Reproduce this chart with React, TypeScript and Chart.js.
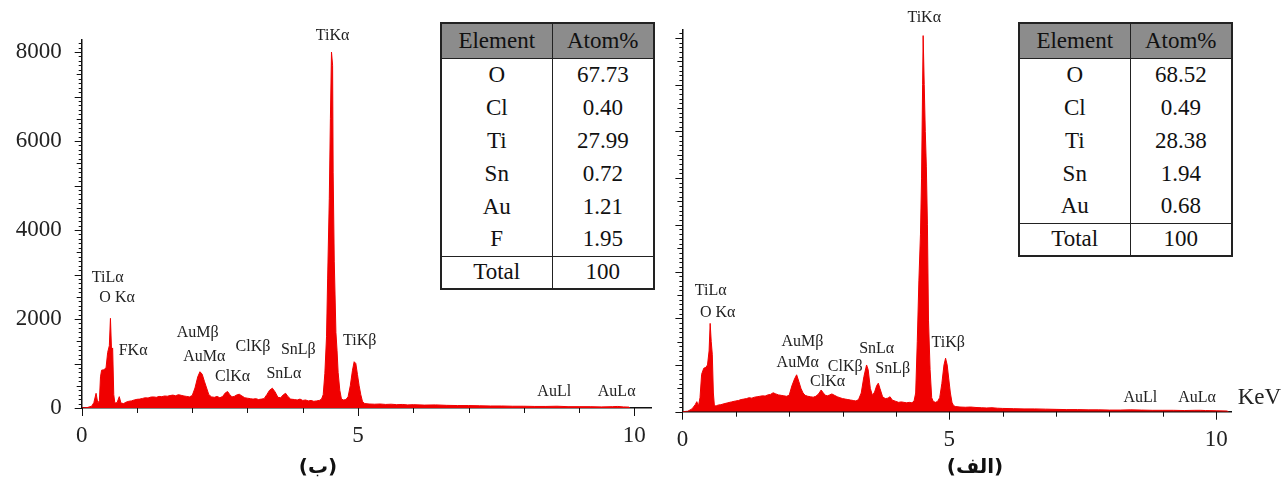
import React, { useEffect, useRef } from 'react';
import { Chart, registerables } from 'chart.js';

Chart.register(...registerables);

Chart.defaults.font.family = '"Liberation Serif", "Times New Roman", serif';
Chart.defaults.color = '#222';

// spectrum (ب) - left panel
const energyB = [
  0.00, 0.10, 0.18, 0.22, 0.26, 0.29, 0.32, 0.34, 0.36, 0.40, 0.44, 0.47, 0.50, 0.52, 0.54, 0.56, 0.58, 0.60,
  0.64, 0.68, 0.71, 0.76, 0.80, 0.85, 0.90, 0.95, 1.00, 1.05, 1.10, 1.15, 1.20, 1.25, 1.30, 1.35, 1.40, 1.45,
  1.50, 1.55, 1.60, 1.65, 1.70, 1.75, 1.80, 1.85, 1.90, 1.95, 2.00, 2.05, 2.10, 2.14, 2.18, 2.22, 2.26, 2.30,
  2.35, 2.40, 2.45, 2.50, 2.55, 2.60, 2.64, 2.68, 2.72, 2.76, 2.80, 2.85, 2.90, 2.95, 3.00, 3.05, 3.10, 3.15,
  3.20, 3.25, 3.30, 3.35, 3.40, 3.45, 3.50, 3.55, 3.60, 3.65, 3.69, 3.73, 3.78, 3.85, 3.90, 3.95, 4.00, 4.05,
  4.10, 4.15, 4.20, 4.25, 4.30, 4.34, 4.37, 4.40, 4.43, 4.45, 4.48, 4.50, 4.52, 4.54, 4.55, 4.57, 4.60, 4.62,
  4.64, 4.67, 4.70, 4.74, 4.78, 4.82, 4.86, 4.90, 4.93, 4.96, 4.99, 5.02, 5.05, 5.08, 5.12, 5.20, 5.30, 5.40,
  5.50, 5.60, 5.70, 5.80, 5.90, 6.00, 6.20, 6.40, 6.60, 6.80, 7.00, 7.20, 7.40, 7.60, 7.80, 8.00, 8.20, 8.40,
  8.60, 8.80, 9.00, 9.20, 9.40, 9.60, 9.70, 9.80, 9.90, 9.92,
];
const countsB = [
  0, 10, 40, 120, 330, 120, 160, 700, 850, 860, 900, 1250, 1400, 2015, 1300, 1350, 300, 110,
  120, 255, 110, 100, 130, 150, 160, 180, 195, 200, 215, 230, 225, 245, 250, 240, 260, 255,
  270, 265, 280, 290, 275, 300, 285, 270, 260, 250, 280, 450, 700, 815, 760, 600, 450, 300,
  250, 240, 260, 230, 260, 340, 370, 300, 250, 260, 290, 310, 270, 230, 220, 210, 200, 210,
  190, 200, 210, 300, 400, 445, 360, 240, 230, 300, 330, 260, 200, 190, 180, 200, 170, 180,
  160, 170, 150, 160, 170, 200, 300, 780, 1600, 2900, 4700, 6500, 8000, 7700, 5300, 3300, 1700, 1300,
  800, 400, 200, 180, 190, 250, 500, 850, 1040, 1000, 750, 500, 300, 150, 100, 90, 85, 90,
  80, 85, 75, 80, 70, 75, 65, 70, 60, 55, 55, 50, 45, 45, 40, 40, 35, 35,
  40, 30, 30, 30, 25, 30, 35, 25, 20, 0,
];

// spectrum (الف) - right panel
const energyA = [
  0.00, 0.10, 0.18, 0.24, 0.27, 0.30, 0.33, 0.36, 0.40, 0.44, 0.47, 0.50, 0.52, 0.54, 0.56, 0.58, 0.60, 0.64,
  0.68, 0.72, 0.78, 0.85, 0.92, 1.00, 1.05, 1.10, 1.15, 1.20, 1.25, 1.30, 1.35, 1.40, 1.45, 1.50, 1.55, 1.60,
  1.65, 1.70, 1.75, 1.80, 1.85, 1.90, 1.95, 2.00, 2.05, 2.10, 2.14, 2.18, 2.22, 2.26, 2.30, 2.35, 2.40, 2.45,
  2.50, 2.55, 2.60, 2.64, 2.68, 2.72, 2.76, 2.80, 2.85, 2.90, 2.95, 3.00, 3.05, 3.10, 3.15, 3.20, 3.25, 3.30,
  3.35, 3.40, 3.45, 3.48, 3.52, 3.56, 3.60, 3.64, 3.67, 3.70, 3.75, 3.80, 3.85, 3.89, 3.93, 4.00, 4.05, 4.10,
  4.15, 4.20, 4.25, 4.30, 4.34, 4.37, 4.40, 4.43, 4.46, 4.48, 4.50, 4.51, 4.53, 4.55, 4.57, 4.59, 4.61, 4.64,
  4.67, 4.70, 4.74, 4.78, 4.82, 4.86, 4.90, 4.93, 4.96, 4.99, 5.02, 5.05, 5.08, 5.12, 5.20, 5.30, 5.40, 5.50,
  5.60, 5.70, 5.80, 5.90, 6.00, 6.20, 6.40, 6.60, 6.80, 7.00, 7.20, 7.40, 7.60, 7.80, 8.00, 8.20, 8.40, 8.60,
  8.80, 9.00, 9.20, 9.40, 9.60, 9.70, 9.80, 10.00, 10.20, 10.23,
];
const countsA = [
  0, 10, 60, 150, 215, 120, 300, 800, 930, 950, 1000, 1300, 1890, 1500, 1230, 400, 120, 130,
  145, 150, 170, 190, 210, 230, 240, 260, 270, 280, 300, 290, 310, 320, 330, 340, 335, 360,
  370, 405, 380, 360, 350, 340, 330, 350, 550, 700, 790, 650, 500, 400, 350, 330, 320, 310,
  330, 380, 465, 400, 350, 340, 360, 380, 350, 320, 300, 280, 270, 260, 250, 240, 230, 260,
  400, 750, 1000, 900, 500, 350, 420, 560, 610, 500, 320, 280, 290, 320, 250, 220, 200, 210,
  200, 190, 200, 190, 230, 400, 1500, 2800, 3800, 5000, 7000, 8050, 7000, 6000, 5240, 4000, 1960, 900,
  300, 220, 200, 220, 300, 600, 1000, 1145, 1000, 700, 400, 200, 130, 110, 100, 95, 100, 90,
  85, 80, 85, 75, 70, 65, 60, 60, 55, 50, 45, 45, 40, 40, 35, 35, 40, 35,
  30, 30, 30, 25, 30, 30, 25, 20, 15, 0,
];

// axis tick labels
const yTicks = [0, 2000, 4000, 6000, 8000];
const xTicks = [0, 5, 10];

// peak labels (keV, counts where the label sits)
const peakNamesB = ['TiLα', 'O Kα', 'FKα', 'AuMβ', 'AuMα', 'ClKα', 'ClKβ', 'SnLβ', 'SnLα', 'TiKβ', 'TiKα', 'AuLl', 'AuLα'];
const peakKevB = [0.47, 0.64, 0.93, 2.10, 2.22, 2.73, 3.10, 3.92, 3.66, 5.03, 4.54, 8.55, 9.68];
const peakAtB = [2930, 2480, 1290, 1685, 1146, 704, 1371, 1303, 764, 1506, 8360, 360, 360];

const peakNamesA = ['TiLα', 'O Kα', 'AuMβ', 'AuMα', 'ClKβ', 'ClKα', 'SnLα', 'SnLβ', 'TiKβ', 'TiKα', 'AuLl', 'AuLα'];
const peakKevA = [0.53, 0.66, 2.25, 2.16, 3.05, 2.72, 3.64, 3.94, 4.98, 4.53, 8.58, 9.64];
const peakAtA = [2590, 2125, 1500, 1054, 964, 642, 1357, 929, 1482, 8430, 304, 304];

// composition tables
const elementsB = ['O', 'Cl', 'Ti', 'Sn', 'Au', 'F'];
const atomPctB = ['67.73', '0.40', '27.99', '0.72', '1.21', '1.95'];
const elementsA = ['O', 'Cl', 'Ti', 'Sn', 'Au'];
const atomPctA = ['68.52', '0.49', '28.38', '1.94', '0.68'];

const RED = '#f00000';

const decorPlugin = (names: string[], kev: number[], at: number[], unit: boolean) => ({
  id: 'spectrumDecor',
  afterDraw(chart: any) {
    const { ctx, chartArea } = chart;
    const x = chart.scales.x;
    const y = chart.scales.y;
    ctx.save();
    ctx.strokeStyle = '#111';
    ctx.lineWidth = 1;
    // minor ticks on the counts axis
    for (let v = 0; v <= y.max; v += 100) {
      const py = Math.round(y.getPixelForValue(v)) + 0.5;
      const len = v % 1000 === 0 ? 7 : v % 500 === 0 ? 5 : 3;
      ctx.beginPath();
      ctx.moveTo(chartArea.left, py);
      ctx.lineTo(chartArea.left - len, py);
      ctx.stroke();
    }
    // 1 keV ticks
    for (let k = 0; k <= 10; k++) {
      const px = Math.round(x.getPixelForValue(k)) + 0.5;
      const len = k % 5 === 0 ? 8 : 5;
      ctx.beginPath();
      ctx.moveTo(px, chartArea.bottom);
      ctx.lineTo(px, chartArea.bottom + len);
      ctx.stroke();
    }
    ctx.fillStyle = '#222';
    ctx.font = '16px "Liberation Serif"';
    ctx.textAlign = 'center';
    ctx.textBaseline = 'middle';
    names.forEach((n, i) => {
      ctx.fillText(n, x.getPixelForValue(kev[i]), y.getPixelForValue(at[i]));
    });
    if (unit) {
      ctx.font = '23px "Liberation Serif"';
      ctx.textAlign = 'left';
      ctx.fillText('KeV', chartArea.right + 6, chartArea.bottom - 14);
    }
    ctx.restore();
  },
});

type SpecProps = {
  energy: number[];
  counts: number[];
  names: string[];
  kev: number[];
  at: number[];
  left: number;
  width: number;
  yWidth: number;
  padTop: number;
  padRight: number;
  xHeight: number;
  xMax: number;
  yMax: number;
  yLabels: boolean;
  unit: boolean;
};

const Spectrum: React.FC<SpecProps> = (p) => {
  const ref = useRef<HTMLCanvasElement | null>(null);

  useEffect(() => {
    if (!ref.current) return;
    const chart = new Chart(ref.current, {
      type: 'line',
      data: {
        datasets: [
          {
            data: p.energy.map((e, i) => ({ x: e, y: p.counts[i] })),
            borderColor: RED,
            backgroundColor: RED,
            borderWidth: 1,
            pointRadius: 0,
            tension: 0,
            fill: 'origin',
          },
        ],
      },
      options: {
        animation: false,
        responsive: false,
        devicePixelRatio: 1,
        layout: { padding: { top: p.padTop, right: p.padRight, bottom: 0, left: 0 } },
        plugins: { legend: { display: false }, tooltip: { enabled: false } },
        scales: {
          x: {
            type: 'linear',
            min: 0,
            max: p.xMax,
            afterFit: (s: any) => {
              s.height = p.xHeight;
            },
            afterBuildTicks: (s: any) => {
              s.ticks = xTicks.map((v) => ({ value: v }));
            },
            grid: { display: false, drawTicks: false },
            border: { display: true, color: '#111', width: 1.5 },
            ticks: {
              padding: 14,
              font: { size: 23 },
              color: '#222',
              maxRotation: 0,
              autoSkip: false,
              callback: (v: any) => String(v),
            },
          },
          y: {
            type: 'linear',
            min: 0,
            max: p.yMax,
            afterFit: (s: any) => {
              s.width = p.yWidth;
            },
            afterBuildTicks: (s: any) => {
              s.ticks = yTicks.map((v) => ({ value: v }));
            },
            grid: { display: false, drawTicks: false },
            border: { display: true, color: '#111', width: 1.5 },
            ticks: {
              display: p.yLabels,
              padding: 20,
              font: { size: 23 },
              color: '#222',
              autoSkip: false,
              callback: (v: any) => String(v),
            },
          },
        },
      },
      plugins: [decorPlugin(p.names, p.kev, p.at, p.unit)],
    });
    return () => chart.destroy();
  }, []);

  return (
    <canvas
      ref={ref}
      width={p.width}
      height={481}
      style={{ position: 'absolute', left: p.left, top: 0, width: p.width, height: 481 }}
    />
  );
};

const cell: React.CSSProperties = {
  border: '1.5px solid #222',
  padding: 0,
  textAlign: 'center',
  fontFamily: '"Liberation Serif", serif',
  fontSize: 23,
  color: '#111',
};

const CompTable: React.FC<{ left: number; els: string[]; pct: string[] }> = ({ left, els, pct }) => (
  <table
    style={{
      position: 'absolute',
      left,
      top: 22,
      width: 213,
      borderCollapse: 'collapse',
      tableLayout: 'fixed',
      background: '#fff',
      border: '2px solid #222',
    }}
  >
    <colgroup>
      <col style={{ width: 111 }} />
      <col style={{ width: 102 }} />
    </colgroup>
    <thead>
      <tr style={{ height: 35, background: '#8c8c8c' }}>
        <td style={cell}>Element</td>
        <td style={cell}>Atom%</td>
      </tr>
    </thead>
    <tbody>
      {els.map((e, i) => (
        <tr key={e} style={{ height: 33 }}>
          <td style={{ ...cell, borderTop: i === 0 ? cell.border : 'none', borderBottom: 'none' }}>{e}</td>
          <td style={{ ...cell, borderTop: i === 0 ? cell.border : 'none', borderBottom: 'none' }}>{pct[i]}</td>
        </tr>
      ))}
      <tr style={{ height: 33 }}>
        <td style={cell}>Total</td>
        <td style={cell}>100</td>
      </tr>
    </tbody>
  </table>
);

const caption: React.CSSProperties = {
  position: 'absolute',
  top: 454,
  fontFamily: '"DejaVu Sans", sans-serif',
  fontWeight: 'bold',
  fontSize: 20,
  color: '#111',
  transform: 'translateX(-50%)',
  whiteSpace: 'nowrap',
};

export default function App() {
  return (
    <div style={{ position: 'absolute', left: 0, top: 0, width: 1285, height: 481, background: '#fff', overflow: 'hidden' }}>
      <Spectrum
        energy={energyB}
        counts={countsB}
        names={peakNamesB}
        kev={peakKevB}
        at={peakAtB}
        left={0}
        width={660}
        yWidth={81.7}
        padTop={40}
        padRight={5}
        xHeight={73}
        xMax={10.31}
        yMax={8270}
        yLabels={true}
        unit={false}
      />
      <Spectrum
        energy={energyA}
        counts={countsA}
        names={peakNamesA}
        kev={peakKevA}
        at={peakAtA}
        left={660}
        width={625}
        yWidth={22.4}
        padTop={30}
        padRight={53.3}
        xHeight={69.3}
        xMax={10.29}
        yMax={8170}
        yLabels={false}
        unit={true}
      />
      <CompTable left={440} els={elementsB} pct={atomPctB} />
      <CompTable left={1018} els={elementsA} pct={atomPctA} />
      <div style={{ ...caption, left: 318 }}>(ب)</div>
      <div style={{ ...caption, left: 975 }}>(الف)</div>
    </div>
  );
}
